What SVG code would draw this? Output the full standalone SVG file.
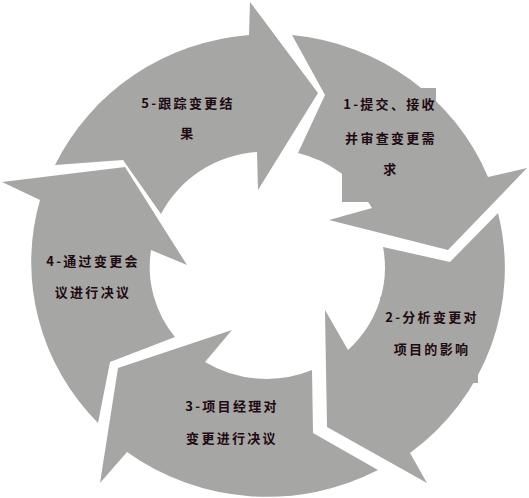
<svg xmlns="http://www.w3.org/2000/svg" width="529" height="498" viewBox="0 0 529 498">
<style>
.seg{fill:#a6a6a4;stroke:none}
.lbl{font-family:"Noto Sans CJK SC","Noto Sans",sans-serif;font-size:13px;font-weight:bold;fill:#1e0a12;letter-spacing:2.3px;text-anchor:middle}
</style>
<rect width="529" height="498" fill="#ffffff"/>
<g id="connectors"></g>
<g id="node1">
<path class="seg" d="M292,35 A237,231 0 0 1 488,177 L527,168 L448,250 L329,220 L372,208 A117,113 0 0 0 298,153 L325,95 Z"/>
<path class="seg" d="M342,88 H436 V202 H342 Z"/>
<text class="lbl" x="390" y="109">1-提交、接收</text>
<text class="lbl" x="391" y="143">并审查变更需</text>
<text class="lbl" x="391" y="174">求</text>
</g>
<g id="node2">
<path class="seg" d="M498,213 A237,231 0 0 1 410,453 L427,483 L327,427 L325,310 L348,350 A117,113 0 0 0 383,247 L450,262 Z"/>
<path class="seg" d="M380,297 H478 V383 H380 Z"/>
<text class="lbl" x="432" y="322">2-分析变更对</text>
<text class="lbl" x="432" y="354">项目的影响</text>
</g>
<g id="node3">
<path class="seg" d="M378,470 A237,231 0 0 1 127,452 L100,483 L118,368 L232,330 L205,362 A117,113 0 0 0 312,370 L313,433 Z"/>
<text class="lbl" x="232" y="411">3-项目经理对</text>
<text class="lbl" x="232" y="443">变更进行决议</text>
</g>
<g id="node4">
<path class="seg" d="M98,423 A237,231 0 0 1 40,200 L2,182 L125,167 L187,265 L151,250 A117,113 0 0 0 175,337 L110,362 Z"/>
<text class="lbl" x="93" y="266">4-通过变更会</text>
<text class="lbl" x="93" y="297">议进行决议</text>
</g>
<g id="node5">
<path class="seg" d="M55,165 A237,231 0 0 1 249,35 L250,2 L318,93 L258,190 L257,152 A117,113 0 0 0 161,214 L123,160 Z"/>
<text class="lbl" x="188" y="108">5-跟踪变更结</text>
<text class="lbl" x="188" y="138">果</text>
</g>
</svg>
